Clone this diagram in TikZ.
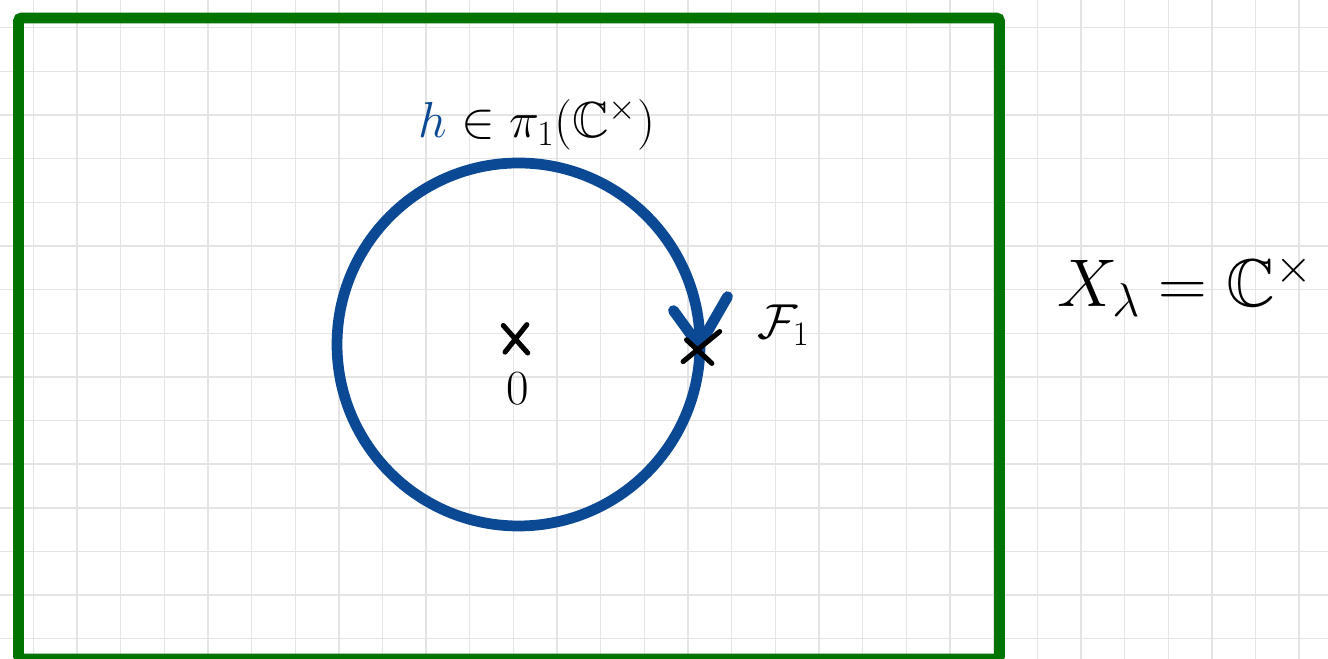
\RequirePackage{fix-cm}
\documentclass[tikz,border=0pt]{standalone}
\definecolor{frameGreen}{RGB}{0, 115, 0}
\definecolor{loopBlue}{RGB}{12, 73, 148}
\definecolor{gridGray}{RGB}{228, 228, 228}
\usepackage{tikz}
\usetikzlibrary{arrows.meta, positioning, calc}
\usepackage{amsmath, amssymb}

\tikzset{
  pen/.style={line width=3.3pt, line cap=round, line join=round, black},
  loopline/.style={line width=7pt, loopBlue, line cap=round, line join=round},
}

\begin{document}
\begin{tikzpicture}
        \useasboundingbox (0,0) rectangle (30.424,15.097);
        \fill[white] (0,0) rectangle (30.424,15.097);

        % Grid paper
        \foreach \x in {0,...,29} {
          \draw[gridGray, line width=0.9pt] (0.763+\x, 0) -- (0.763+\x, 15.097);
        }
        \foreach \y in {0,...,14} {
          \draw[gridGray, line width=0.9pt] (0, 0.463+\y) -- (30.424, 0.463+\y);
        }

        % Frame
        \draw[frameGreen, line width=7pt, rounded corners=2pt] (0.424,0) rectangle (22.898,14.685);

        % Loop around the origin
        \coordinate (C) at (11.879,7.205);
        \coordinate (O) at (11.81,7.33);
        \coordinate (F) at (16.048,7.102);
        \draw[loopline] (C) circle (4.158);
        \draw[loopline] ($(F)+(-0.62,0.88)$) -- ($(F)+(-0.03,0.07)$) -- ($(F)+(0.62,1.2)$);

        % Marked points
        \draw[pen] (O) +(-0.28,0.31) -- +(0.28,-0.32) +(0.26,0.33) -- +(-0.24,-0.3);
        \draw[pen] (F) +(-0.4,-0.29) -- +(0.44,0.4) +(-0.32,0.21) -- +(0.26,-0.33);

        % Labels
        \node[font=\fontsize{32}{36}\selectfont] (zero) at (11.87,6.2) {$0$};
        \node[font=\fontsize{32}{36}\selectfont] (Flbl) at (17.95,7.65) {$\mathcal{F}_1$};
        \node[font=\fontsize{33}{38}\selectfont] (hlbl) at (12.3,12.25)
          {$\textcolor{loopBlue}{h}\in\pi_1(\mathbb{C}^\times)$};
        \node[font=\fontsize{44}{50}\selectfont] (Xlbl) at (27.15,8.55)
          {$X_\lambda=\mathbb{C}^\times$};
      \end{tikzpicture}
\end{document}
